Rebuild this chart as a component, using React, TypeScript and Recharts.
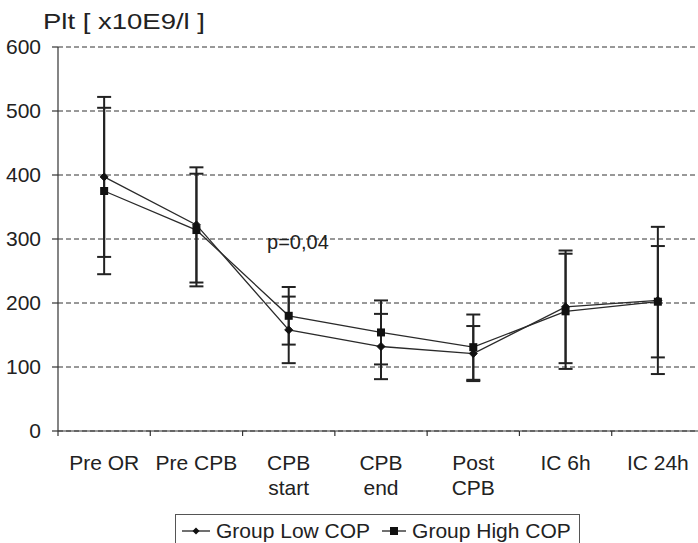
import React from 'react';
import {
  LineChart,
  Line,
  XAxis,
  YAxis,
  CartesianGrid,
  ErrorBar,
  Legend,
  ReferenceDot,
} from 'recharts';

const categories: string[][] = [
  ['Pre OR'],
  ['Pre CPB'],
  ['CPB', 'start'],
  ['CPB', 'end'],
  ['Post', 'CPB'],
  ['IC 6h'],
  ['IC 24h'],
];
const lowCop = [397, 322, 158, 132, 121, 194, 204];
const lowCopSd = [125, 90, 52, 51, 43, 88, 115];
const highCop = [375, 314, 180, 154, 131, 187, 202];
const highCopSd = [130, 88, 45, 50, 51, 90, 87];
const yTicks = [0, 100, 200, 300, 400, 500, 600];
const boundaryTicks = [0, 1, 2, 3, 4, 5, 6, 7];
const centerTicks = categories.map((_, i) => i + 0.5);
const seriesNames = ['Group Low COP', 'Group High COP'];
const yTitle = 'Plt [ x10E9/l ]';
const annotation = { text: 'p=0,04', x: 2.6, y: 296 };

const data = categories.map((c, i) => ({
  x: i + 0.5,
  low: lowCop[i],
  lowSd: lowCopSd[i],
  high: highCop[i],
  highSd: highCopSd[i],
}));

const FONT = '"Liberation Sans", Arial, Helvetica, sans-serif';
const INK = '#222';

const DiamondDot = (props: any) => {
  const { cx, cy } = props;
  if (cx == null || cy == null) return null;
  const r = 4;
  return (
    <polygon
      points={`${cx},${cy - r} ${cx + r},${cy} ${cx},${cy + r} ${cx - r},${cy}`}
      fill="#111"
      stroke="#111"
    />
  );
};

const SquareDot = (props: any) => {
  const { cx, cy } = props;
  if (cx == null || cy == null) return null;
  const s = 8;
  return <rect x={cx - s / 2} y={cy - s / 2} width={s} height={s} fill="#111" />;
};

const CategoryTick = (props: any) => {
  const { x, y, payload } = props;
  const idx = Math.floor(payload.value);
  const lines = categories[idx] || [];
  return (
    <text x={x} y={y} textAnchor="middle" fontSize={21} fontFamily={FONT} fill={INK}>
      {lines.map((l, i) => (
        <tspan key={i} x={x} dy={i === 0 ? 31 : 25}>
          {l}
        </tspan>
      ))}
    </text>
  );
};

const LegendContent = () => (
  <div
    style={{
      border: '1px solid #555',
      display: 'flex',
      alignItems: 'center',
      height: 34,
      boxSizing: 'border-box',
      padding: '0 8px 0 4px',
      fontFamily: FONT,
      fontSize: 21,
      color: INK,
      background: '#fff',
      whiteSpace: 'nowrap',
    }}
  >
    <svg width={32} height={20} style={{ marginRight: 4 }}>
      <line x1={2} y1={10} x2={30} y2={10} stroke="#222" strokeWidth={1.3} />
      <polygon points="16,6.5 19.5,10 16,13.5 12.5,10" fill="#111" />
    </svg>
    <span style={{ marginRight: 10 }}>{seriesNames[0]}</span>
    <svg width={28} height={20} style={{ marginRight: 4 }}>
      <line x1={2} y1={10} x2={26} y2={10} stroke="#222" strokeWidth={1.3} />
      <rect x={10} y={6} width={8} height={8} fill="#111" />
    </svg>
    <span>{seriesNames[1]}</span>
  </div>
);

export default function App() {
  return (
    <div
      style={{
        position: 'absolute',
        left: 0,
        top: 0,
        width: 698,
        height: 543,
        overflow: 'hidden',
        background: '#fff',
      }}
    >
      <svg
        width={300}
        height={40}
        style={{ position: 'absolute', left: 0, top: 0, zIndex: 2 }}
      >
        <text
          x={43}
          y={29}
          fontSize={22}
          fontFamily={FONT}
          fill={INK}
          textLength={162}
          lengthAdjust="spacingAndGlyphs"
        >
          {yTitle}
        </text>
      </svg>
      <LineChart
        width={712}
        height={543}
        data={data}
        margin={{ top: 47, right: 8, bottom: 34, left: 0 }}
      >
        <CartesianGrid
          horizontal
          vertical={false}
          stroke="#333"
          strokeDasharray="5 3"
          yAxisId="y"
          xAxisId="b"
        />
        <XAxis
          xAxisId="b"
          dataKey="x"
          type="number"
          domain={[0, 7]}
          ticks={boundaryTicks}
          tickFormatter={() => ''}
          tickSize={5}
          height={8}
          stroke="#333"
          axisLine={{ stroke: '#333', strokeWidth: 1.2 }}
          tickLine={{ stroke: '#333', strokeWidth: 1.2 }}
          allowDataOverflow
        />
        <XAxis
          xAxisId="l"
          dataKey="x"
          type="number"
          domain={[0, 7]}
          ticks={centerTicks}
          axisLine={false}
          tickLine={false}
          tickSize={0}
          tickMargin={0}
          height={70}
          interval={0}
          tick={<CategoryTick />}
        />
        <YAxis
          yAxisId="y"
          type="number"
          domain={[0, 600]}
          ticks={yTicks}
          width={58}
          tickSize={6}
          tickMargin={11}
          axisLine={{ stroke: '#333', strokeWidth: 1.2 }}
          tickLine={{ stroke: '#333', strokeWidth: 1.2 }}
          tick={{ fontSize: 21, fontFamily: FONT, fill: INK }}
          interval={0}
        />
        <Line
          xAxisId="b"
          yAxisId="y"
          dataKey="low"
          name={seriesNames[0]}
          stroke="#2a2a2a"
          strokeWidth={1.3}
          dot={<DiamondDot />}
          activeDot={false}
          isAnimationActive={false}
        >
          <ErrorBar dataKey="lowSd" width={7} stroke="#222" strokeWidth={2} direction="y" />
        </Line>
        <Line
          xAxisId="b"
          yAxisId="y"
          dataKey="high"
          name={seriesNames[1]}
          stroke="#2a2a2a"
          strokeWidth={1.3}
          dot={<SquareDot />}
          activeDot={false}
          isAnimationActive={false}
        >
          <ErrorBar dataKey="highSd" width={7} stroke="#222" strokeWidth={2} direction="y" />
        </Line>
        <ReferenceDot
          xAxisId="b"
          yAxisId="y"
          x={annotation.x}
          y={annotation.y}
          r={0}
          fill="none"
          stroke="none"
          label={{
            value: annotation.text,
            position: 'center',
            fontSize: 20,
            fontFamily: FONT,
            fill: INK,
          }}
        />
        <Legend
          layout="horizontal"
          verticalAlign="middle"
          align="center"
          content={<LegendContent />}
          wrapperStyle={{ position: 'absolute', left: 175, top: 514, width: 'auto' }}
        />
      </LineChart>
    </div>
  );
}
